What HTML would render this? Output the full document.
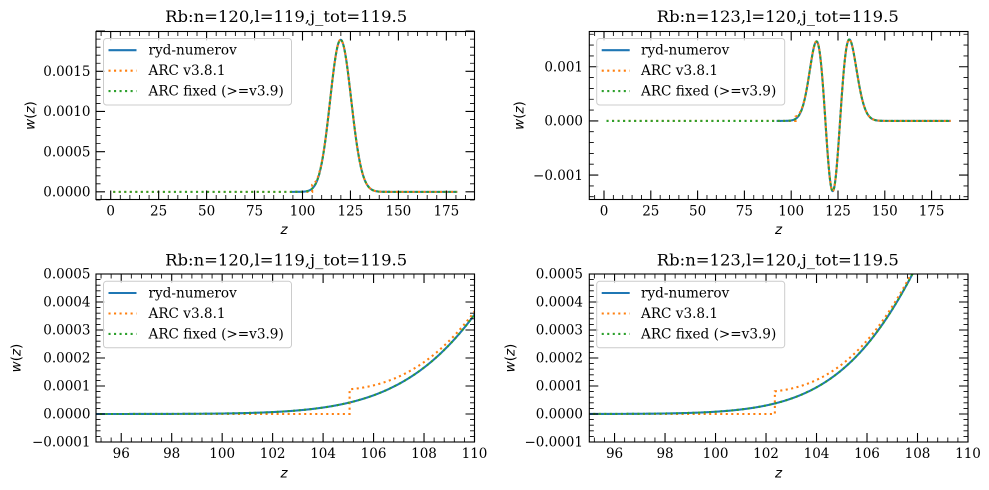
<!DOCTYPE html>
<html><head><meta charset="utf-8">
<style>
html,body{margin:0;padding:0;background:#fff;width:989px;height:490px;overflow:hidden;}
svg{display:block;}
.t{font-family:"DejaVu Serif","Liberation Serif",serif;font-size:13.5px;fill:#000;}
.ti{font-family:"DejaVu Serif","Liberation Serif",serif;font-size:16px;fill:#000;}
.lg{font-family:"DejaVu Serif","Liberation Serif",serif;font-size:13.6px;fill:#000;}
.ax{font-family:"DejaVu Sans","Liberation Sans",sans-serif;font-size:13.5px;fill:#000;}
.it{font-style:italic;}
</style></head><body>
<svg id="s" width="989" height="490" viewBox="0 0 989 490" xmlns="http://www.w3.org/2000/svg">
<rect width="989" height="490" fill="#fff"/>
<defs>
<clipPath id="cTL"><rect x="96" y="31.5" width="378.5" height="168"/></clipPath>
<clipPath id="cTR"><rect x="589.3" y="31.5" width="378.7" height="168"/></clipPath>
<clipPath id="cBL"><rect x="96" y="274" width="378.5" height="168"/></clipPath>
<clipPath id="cBR"><rect x="589.3" y="274" width="378.7" height="168"/></clipPath>
</defs>
<g id="curves"></g>
<g id="ticks"></g>
<g fill="none" stroke="#000" stroke-width="1.1">
<rect x="96" y="31.5" width="378.5" height="168"/>
<rect x="589.3" y="31.5" width="378.7" height="168"/>
<rect x="96" y="274" width="378.5" height="168"/>
<rect x="589.3" y="274" width="378.7" height="168"/>
</g>

<!-- Titles -->
<text class="ti" x="286.2" y="22" text-anchor="middle" textLength="242" lengthAdjust="spacingAndGlyphs">Rb:n=120,l=119,j_tot=119.5</text>
<text class="ti" x="777.8" y="22" text-anchor="middle" textLength="242" lengthAdjust="spacingAndGlyphs">Rb:n=123,l=120,j_tot=119.5</text>
<text class="ti" x="286.2" y="265.5" text-anchor="middle" textLength="242" lengthAdjust="spacingAndGlyphs">Rb:n=120,l=119,j_tot=119.5</text>
<text class="ti" x="777.8" y="265.5" text-anchor="middle" textLength="242" lengthAdjust="spacingAndGlyphs">Rb:n=123,l=120,j_tot=119.5</text>

<!-- TL tick labels -->
<g class="t" text-anchor="middle">
<text x="110.7" y="215.3">0</text><text x="158.65" y="215.3">25</text><text x="206.6" y="215.3">50</text><text x="254.55" y="215.3">75</text>
<text x="302.5" y="215.3">100</text><text x="350.45" y="215.3">125</text><text x="398.4" y="215.3">150</text><text x="446.35" y="215.3">175</text>
</g>
<g class="t" text-anchor="end">
<text x="90.5" y="196.6">0.0000</text><text x="90.5" y="156.4">0.0005</text><text x="90.5" y="116.2">0.0010</text><text x="90.5" y="76.0">0.0015</text>
</g>
<!-- TR tick labels -->
<g class="t" text-anchor="middle">
<text x="604" y="215.3">0</text><text x="650.8" y="215.3">25</text><text x="697.6" y="215.3">50</text><text x="744.4" y="215.3">75</text>
<text x="791.2" y="215.3">100</text><text x="838" y="215.3">125</text><text x="884.8" y="215.3">150</text><text x="931.6" y="215.3">175</text>
</g>
<g class="t" text-anchor="end">
<text x="583" y="179.8">−0.001</text><text x="583" y="125.6">0.000</text><text x="583" y="71.4">0.001</text>
</g>
<!-- BL tick labels -->
<g class="t" text-anchor="middle">
<text x="121.23" y="457.8">96</text><text x="171.7" y="457.8">98</text><text x="222.17" y="457.8">100</text><text x="272.63" y="457.8">102</text>
<text x="323.1" y="457.8">104</text><text x="373.57" y="457.8">106</text><text x="424.03" y="457.8">108</text><text x="474.5" y="457.8">110</text>
</g>
<g class="t" text-anchor="end">
<text x="90.5" y="446.7">−0.0001</text><text x="90.5" y="418.7">0.0000</text><text x="90.5" y="390.7">0.0001</text><text x="90.5" y="362.7">0.0002</text>
<text x="90.5" y="334.7">0.0003</text><text x="90.5" y="306.7">0.0004</text><text x="90.5" y="278.7">0.0005</text>
</g>
<!-- BR tick labels -->
<g class="t" text-anchor="middle">
<text x="614.55" y="457.8">96</text><text x="665.04" y="457.8">98</text><text x="715.54" y="457.8">100</text><text x="766.03" y="457.8">102</text>
<text x="816.52" y="457.8">104</text><text x="867.02" y="457.8">106</text><text x="917.51" y="457.8">108</text><text x="968" y="457.8">110</text>
</g>
<g class="t" text-anchor="end">
<text x="583" y="446.7">−0.0001</text><text x="583" y="418.7">0.0000</text><text x="583" y="390.7">0.0001</text><text x="583" y="362.7">0.0002</text>
<text x="583" y="334.7">0.0003</text><text x="583" y="306.7">0.0004</text><text x="583" y="278.7">0.0005</text>
</g>

<!-- axis labels -->
<g class="ax" text-anchor="middle">
<text x="284" y="234" class="it">z</text>
<text x="778.6" y="234" class="it">z</text>
<text x="284" y="477.5" class="it">z</text>
<text x="778.6" y="477.5" class="it">z</text>
<text transform="translate(34.5,115.5) rotate(-90)"><tspan class="it">w</tspan>(<tspan class="it">z</tspan>)</text>
<text transform="translate(523.5,115.5) rotate(-90)"><tspan class="it">w</tspan>(<tspan class="it">z</tspan>)</text>
<text transform="translate(20.5,358) rotate(-90)"><tspan class="it">w</tspan>(<tspan class="it">z</tspan>)</text>
<text transform="translate(514.5,358) rotate(-90)"><tspan class="it">w</tspan>(<tspan class="it">z</tspan>)</text>
</g>

<!-- Legends -->
<g>
<rect x="103.5" y="38.5" width="188" height="66.5" rx="3" fill="#fff" fill-opacity="0.8" stroke="#cccccc" stroke-width="1"/>
<line x1="108.5" y1="50.2" x2="136.5" y2="50.2" stroke="#1f77b4" stroke-width="2.08"/>
<line x1="108.5" y1="70.7" x2="136.5" y2="70.7" stroke="#ff7f0e" stroke-width="2.08" stroke-dasharray="2.08 3.44"/>
<line x1="108.5" y1="91.1" x2="136.5" y2="91.1" stroke="#2ca02c" stroke-width="2.08" stroke-dasharray="2.08 3.44"/>
<text class="lg" x="148.5" y="54.7">ryd-numerov</text>
<text class="lg" x="148.5" y="75.2">ARC v3.8.1</text>
<text class="lg" x="148.5" y="95.6">ARC fixed (&gt;=v3.9)</text>
</g>
<g>
<rect x="596.7" y="38.5" width="188" height="66.5" rx="3" fill="#fff" fill-opacity="0.8" stroke="#cccccc" stroke-width="1"/>
<line x1="601.7" y1="50.2" x2="629.7" y2="50.2" stroke="#1f77b4" stroke-width="2.08"/>
<line x1="601.7" y1="70.7" x2="629.7" y2="70.7" stroke="#ff7f0e" stroke-width="2.08" stroke-dasharray="2.08 3.44"/>
<line x1="601.7" y1="91.1" x2="629.7" y2="91.1" stroke="#2ca02c" stroke-width="2.08" stroke-dasharray="2.08 3.44"/>
<text class="lg" x="641" y="54.7">ryd-numerov</text>
<text class="lg" x="641" y="75.2">ARC v3.8.1</text>
<text class="lg" x="641" y="95.6">ARC fixed (&gt;=v3.9)</text>
</g>
<g>
<rect x="103.5" y="281.3" width="188" height="66.5" rx="3" fill="#fff" fill-opacity="0.8" stroke="#cccccc" stroke-width="1"/>
<line x1="108.5" y1="293" x2="136.5" y2="293" stroke="#1f77b4" stroke-width="2.08"/>
<line x1="108.5" y1="313.5" x2="136.5" y2="313.5" stroke="#ff7f0e" stroke-width="2.08" stroke-dasharray="2.08 3.44"/>
<line x1="108.5" y1="333.9" x2="136.5" y2="333.9" stroke="#2ca02c" stroke-width="2.08" stroke-dasharray="2.08 3.44"/>
<text class="lg" x="148.5" y="297.5">ryd-numerov</text>
<text class="lg" x="148.5" y="318">ARC v3.8.1</text>
<text class="lg" x="148.5" y="338.4">ARC fixed (&gt;=v3.9)</text>
</g>
<g>
<rect x="596.7" y="281.3" width="188" height="66.5" rx="3" fill="#fff" fill-opacity="0.8" stroke="#cccccc" stroke-width="1"/>
<line x1="601.7" y1="293" x2="629.7" y2="293" stroke="#1f77b4" stroke-width="2.08"/>
<line x1="601.7" y1="313.5" x2="629.7" y2="313.5" stroke="#ff7f0e" stroke-width="2.08" stroke-dasharray="2.08 3.44"/>
<line x1="601.7" y1="333.9" x2="629.7" y2="333.9" stroke="#2ca02c" stroke-width="2.08" stroke-dasharray="2.08 3.44"/>
<text class="lg" x="641" y="297.5">ryd-numerov</text>
<text class="lg" x="641" y="318">ARC v3.8.1</text>
<text class="lg" x="641" y="338.4">ARC fixed (&gt;=v3.9)</text>
</g>
</svg>
<script>
(function(){
const NS="http://www.w3.org/2000/svg";
function el(tag,attrs,parent){const e=document.createElementNS(NS,tag);for(const k in attrs)e.setAttribute(k,attrs[k]);parent.appendChild(e);return e;}
function makeW(logf){
  let M=-Infinity;const dz=0.01;const vals=[];
  for(let z=1;z<300;z+=dz){const r=logf(z);const v=2*Math.log(z)+2*r[0];vals.push(v);if(v>M)M=v;}
  let S=0;for(const v of vals)S+=Math.exp(v-M)*dz;S*=2;
  const lnN=-(M+Math.log(S))/2;
  return function(z){const r=logf(z);return r[1]*Math.exp(r[0]+lnN);};
}
const w1=makeW(function(z){return [(2*120-0.5)*Math.log(z)-z*z/120,1];});
const w2=makeW(function(z){const n=123,a=241;const x=2*z*z/n;const L=x*x/2-(a+2)*x+(a+2)*(a+1)/2;
  return [(2*120+1.5)*Math.log(z)-z*z/n+Math.log(Math.abs(L)+1e-300),L>=0?1:-1];});

const panels=[
 {c:'cTL',X0:96,X1:474.5,Y0:31.5,Y1:199.5,xm:z=>110.7+1.918*z,ym:w=>191.86-80383*w,f:w1,z0:1.3,z1:180.7,zb:94.0,zs:105.05,fine:0.05},
 {c:'cTR',X0:589.3,X1:968,Y0:31.5,Y1:199.5,xm:z=>604+1.872*z,ym:w=>120.9-54159*w,f:w2,z0:1.33,z1:185.2,zb:92.2,zs:102.35,fine:0.05},
 {c:'cBL',X0:96,X1:474.5,Y0:274,Y1:442,xm:z=>96+(z-95)*25.2333,ym:w=>414-280000*w,f:w1,z0:94.5,z1:110.5,zb:94.5,zs:105.05,fine:0.01},
 {c:'cBR',X0:589.3,X1:968,Y0:274,Y1:442,xm:z=>589.3+(z-95)*25.2467,ym:w=>414-280000*w,f:w2,z0:94.5,z1:110.5,zb:94.5,zs:102.35,fine:0.01}
];
const cg=document.getElementById('curves');
const tg=document.getElementById('ticks');
function zs_list(p,a,b){const out=[];let z=a;while(z<b){out.push(z);z+=p.fine;}out.push(b);return out;}
function P(p,z,w){let y=p.ym(w);if(y<p.Y0-4)y=p.Y0-4;if(y>p.Y1+4)y=p.Y1+4;return p.xm(z).toFixed(2)+','+y.toFixed(2);}
panels.forEach(function(p){
  const g=el('g',{'clip-path':'url(#'+p.c+')'},cg);
  let d='';zs_list(p,p.zb,p.z1).forEach(function(z,i){d+=(i?'L':'M')+P(p,z,p.f(z));});
  el('path',{d:d,fill:'none',stroke:'#1f77b4','stroke-width':2.08,'stroke-linejoin':'round'},g);
  const A=p.f(p.zs)*1.15,k=0.3;
  d='M'+P(p,p.z0,0)+'L'+P(p,p.zs,0);
  zs_list(p,p.zs,p.z1).forEach(function(z){d+='L'+P(p,z,p.f(z)+A*Math.exp(-k*(z-p.zs)));});
  el('path',{d:d,fill:'none',stroke:'#ff7f0e','stroke-width':2.08,'stroke-dasharray':'2.08 3.44'},g);
  d='';zs_list(p,p.z0,p.z1).forEach(function(z,i){d+=(i?'L':'M')+P(p,z,p.f(z));});
  el('path',{d:d,fill:'none',stroke:'#2ca02c','stroke-width':2.08,'stroke-dasharray':'2.08 3.44'},g);
});

function drawTicks(X0,X1,Y0,Y1,xmaj,xmin,ymaj,ymin){
  const M=9,m=4.5,eps=0.6;
  let d1='',d2='';
  xmaj.forEach(function(x){if(x<X0-eps||x>X1+eps)return;d1+='M'+x.toFixed(2)+' '+Y1+'v'+(-M)+'M'+x.toFixed(2)+' '+Y0+'v'+M;});
  xmin.forEach(function(x){if(x<X0-eps||x>X1+eps)return;d2+='M'+x.toFixed(2)+' '+Y1+'v'+(-m)+'M'+x.toFixed(2)+' '+Y0+'v'+m;});
  ymaj.forEach(function(y){if(y<Y0-eps||y>Y1+eps)return;d1+='M'+X0+' '+y.toFixed(2)+'h'+M+'M'+X1+' '+y.toFixed(2)+'h'+(-M);});
  ymin.forEach(function(y){if(y<Y0-eps||y>Y1+eps)return;d2+='M'+X0+' '+y.toFixed(2)+'h'+m+'M'+X1+' '+y.toFixed(2)+'h'+(-m);});
  el('path',{d:d1,stroke:'#000','stroke-width':1.1,fill:'none'},tg);
  el('path',{d:d2,stroke:'#000','stroke-width':0.85,fill:'none'},tg);
}
(function(){const xm=z=>110.7+1.918*z,ym=k=>191.86-8.0383*k;
 const xa=[],xi=[],ya=[],yi=[];
 for(let z=-5;z<=190;z+=5){(z%25===0?xa:xi).push(xm(z));}
 for(let k=-1;k<=20;k++){(k%5===0?ya:yi).push(ym(k));}
 drawTicks(96,474.5,31.5,199.5,xa,xi,ya,yi);})();
(function(){const xm=z=>604+1.872*z,ym=k=>120.9-10.8318*k;
 const xa=[],xi=[],ya=[],yi=[];
 for(let z=-5;z<=195;z+=5){(z%25===0?xa:xi).push(xm(z));}
 for(let k=-7;k<=8;k++){(k%5===0?ya:yi).push(ym(k));}
 drawTicks(589.3,968,31.5,199.5,xa,xi,ya,yi);})();
[[96,474.5],[589.3,968]].forEach(function(b){
 const X0=b[0],X1=b[1],s=(X1-X0)/15;const xa=[],xi=[],ya=[],yi=[];
 for(let j=0;j<=37;j++){const z=95.2+0.4*j;const q=(z-96)/2;const isM=Math.abs(q-Math.round(q))<1e-6;(isM?xa:xi).push(X0+(z-95)*s);}
 for(let m=-5;m<=25;m++){(m%5===0?ya:yi).push(414-5.6*m);}
 drawTicks(X0,X1,274,442,xa,xi,ya,yi);
});
})();
</script>
</body></html>
